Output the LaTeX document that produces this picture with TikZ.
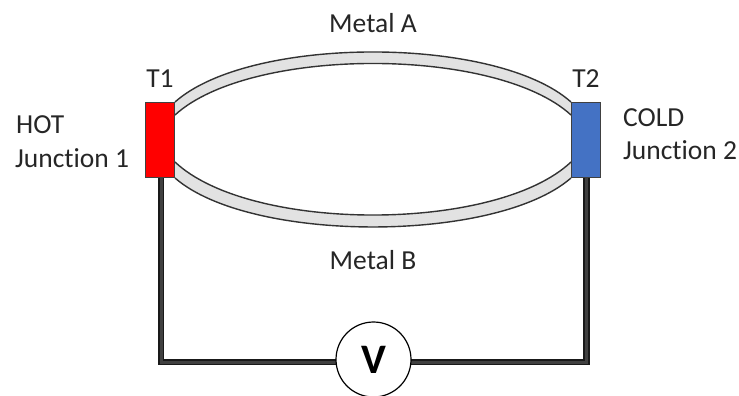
\documentclass[tikz,border=0pt]{standalone}
\usepackage{fontspec}
\setmainfont[Ligatures=NoCommon]{Carlito}
\definecolor{coldblue}{HTML}{4472C4}
\definecolor{metalgray}{HTML}{E2E2E2}
\tikzset{
    junction/.style={draw=black!75, line width=1pt, minimum width=29pt, minimum height=75pt, inner sep=0pt},
    lbl/.style={font=\fontsize{27.5}{30}\selectfont, text=black!85, inner sep=0pt},
    metal/.style={draw=black!80, line width=1.4pt},
    wire/.style={draw=black!90, line width=6.5pt},
    wirecore/.style={draw=black!75, line width=3pt}
}
\begin{document}
\begin{tikzpicture}[x=1pt, y=-1pt]
    \useasboundingbox (0,0) rectangle (739,396);

    % Fill between the edges of each metal
    \fill[metalgray] (175,115) .. controls (250,46.3) and (496,46.3) .. (571,115) -- (571,102) .. controls (496,35.3) and (250,35.3) .. (175,102) -- cycle;
    \fill[metalgray] (175,162) .. controls (250,232.7) and (496,232.7) .. (571,162) -- (571,178) .. controls (496,243.3) and (250,243.3) .. (175,178) -- cycle;
    % Outer and inner edges
    \draw[metal] (175,102) .. controls (250,35.3) and (496,35.3) .. (571,102);
    \draw[metal] (175,115) .. controls (250,46.3) and (496,46.3) .. (571,115);
    \draw[metal] (175,162) .. controls (250,232.7) and (496,232.7) .. (571,162);
    \draw[metal] (175,178) .. controls (250,243.3) and (496,243.3) .. (571,178);

    % Junction blocks
    \node[junction, fill=red] (hot) at (160,140) {};
    \node[junction, fill=coldblue] (cold) at (586,140) {};

    % Wires to the meter
    \coordinate (startL) at (161,178);
    \coordinate (startR) at (586.5,178);
    \coordinate (cornerL) at (161,362);
    \coordinate (cornerR) at (586.5,362);
    \coordinate (endL) at (345,362);
    \coordinate (endR) at (400,362);
    \draw[wire] (startL) -- (cornerL) -- (endL);
    \draw[wire] (startR) -- (cornerR) -- (endR);
    \draw[wirecore] (startL) -- (cornerL) -- (endL);
    \draw[wirecore] (startR) -- (cornerR) -- (endR);

    % Meter
    \node[draw=black, line width=1.2pt, circle, fill=white, minimum size=75pt, inner sep=0pt, font=\fontsize{42}{42}\selectfont\bfseries] (meter) at (373.5,359.5) {\raisebox{-2.5pt}{V}};

    % Labels
    \node[lbl, anchor=base] (metalA) at (373,33) {Metal A};
    \node[lbl, anchor=base] (metalB) at (373,269) {Metal B};
    \node[lbl, anchor=base] (t1) at (160,88) {T1};
    \node[lbl, anchor=base] (t2) at (586,88) {T2};
    \node[lbl, anchor=base west] (hotA) at (16,133) {HOT};
    \node[lbl, anchor=base west] (hotB) at (15,167) {Junction 1};
    \node[lbl, anchor=base west] (coldA) at (623,126) {COLD};
    \node[lbl, anchor=base west] (coldB) at (623,159) {Junction 2};
\end{tikzpicture}
\end{document}
